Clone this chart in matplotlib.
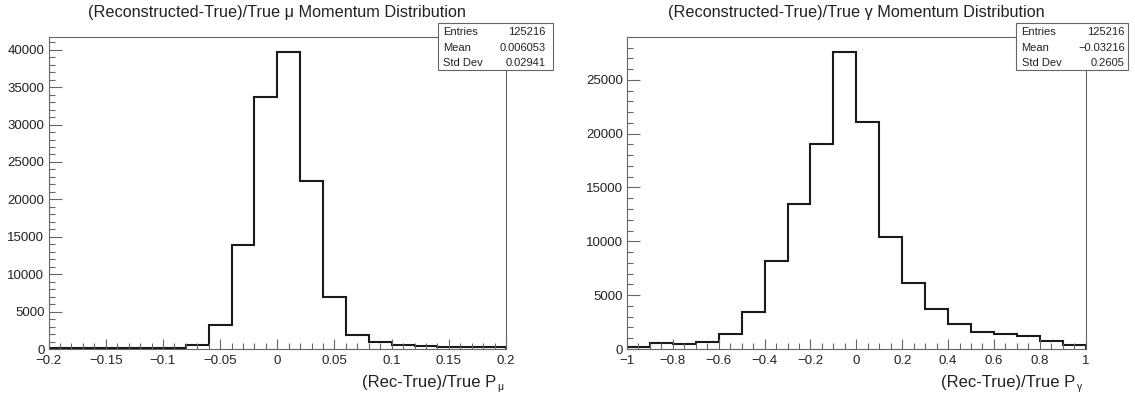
import numpy as np
import matplotlib
matplotlib.use('Agg')
import matplotlib.pyplot as plt
from matplotlib.patches import Rectangle
from matplotlib.ticker import MultipleLocator, FixedLocator, FuncFormatter

plt.rcParams['font.family'] = ['Liberation Sans', 'DejaVu Sans']

# muon momentum residual, 20 bins in [-0.2, 0.2]
mu_edges = np.linspace(-0.2, 0.2, 21)
mu_counts = [70, 80, 90, 110, 140, 190, 480, 3240, 13880, 33750,
             39680, 22470, 7000, 1885, 910, 550, 455, 320, 280, 240]
mu_xticks = [-0.2, -0.15, -0.1, -0.05, 0, 0.05, 0.1, 0.15, 0.2]
mu_stats = [('Entries', '125216'), ('Mean', '0.006053'), ('Std Dev', '0.02941')]

# photon momentum residual, 20 bins in [-1, 1]
gam_edges = np.linspace(-1, 1, 21)
gam_counts = [150, 535, 440, 660, 1435, 3390, 8160, 13500, 19045, 27570,
              21090, 10400, 6150, 3730, 2300, 1590, 1370, 1185, 720, 350]
gam_xticks = [-1, -0.8, -0.6, -0.4, -0.2, 0, 0.2, 0.4, 0.6, 0.8, 1]
gam_stats = [('Entries', '125216'), ('Mean', '\u22120.03216'), ('Std Dev', '0.2605')]

W, H = 1135, 393
fig = plt.figure(figsize=(W / 100, H / 100), dpi=100)


def fx(px):
    return px / W


def fy(py):
    return (H - py) / H


def fmt(v, pos):
    return ('%g' % v).replace('-', '\u2212')


panels = [
    dict(edges=mu_edges, counts=mu_counts, ticks=mu_xticks, minor=0.01,
         stats=mu_stats, box=(437.7, 23.3, 552.7, 70.3), val_pad=7,
         rect=(48.6, 37.3, 506.0, 349.0),
         title='(Reconstructed-True)/True \u03bc Momentum Distribution', sub='\u03bc'),
    dict(edges=gam_edges, counts=gam_counts, ticks=gam_xticks, minor=0.05,
         stats=gam_stats, box=(1016.0, 23.3, 1127.7, 70.3), val_pad=3,
         rect=(627.0, 37.3, 1085.7, 349.0),
         title='(Reconstructed-True)/True \u03b3 Momentum Distribution', sub='\u03b3'),
]

frame_col = '#666666'
for p in panels:
    x0, y0, x1, y1 = p['rect']
    ax = fig.add_axes([fx(x0), fy(y1), fx(x1 - x0), (y1 - y0) / H])
    ax.stairs(p['counts'], p['edges'], baseline=0, color='#1a1a1a', lw=1.5)
    ax.set_xlim(p['edges'][0], p['edges'][-1])
    ax.set_ylim(0, 1.05 * max(p['counts']))
    for s in ax.spines.values():
        s.set_color(frame_col)
        s.set_linewidth(0.8)
    ax.xaxis.set_major_locator(FixedLocator(p['ticks']))
    ax.xaxis.set_major_formatter(FuncFormatter(fmt))
    ax.xaxis.set_minor_locator(MultipleLocator(p['minor']))
    ax.yaxis.set_major_locator(MultipleLocator(5000))
    ax.yaxis.set_minor_locator(MultipleLocator(1000))
    ax.tick_params(which='both', direction='in', color=frame_col, width=0.8,
                   labelsize=9.5, labelcolor='#222222', top=False, right=False)
    ax.tick_params(axis='x', which='major', length=7, pad=4)
    ax.tick_params(axis='x', which='minor', length=4)
    ax.tick_params(axis='y', which='major', length=9, pad=3)
    ax.tick_params(axis='y', which='minor', length=4.5)

    # title centred over the frame
    fig.text(fx((x0 + x1) / 2), fy(17), p['title'], ha='center', va='baseline',
             fontsize=11.7, color='#222222')

    # axis label with a low subscript, ROOT style
    fig.text(fx(x1 - 10), fy(387), '(Rec-True)/True P', ha='right', va='baseline',
             fontsize=12, color='#222222')
    fig.text(fx(x1 - 8.5), fy(390.5), p['sub'], ha='left', va='baseline',
             fontsize=7.5, color='#222222')

    # stat box
    bx0, by0, bx1, by1 = p['box']
    fig.patches.append(Rectangle((fx(bx0), fy(by1)), fx(bx1 - bx0), (by1 - by0) / H,
                                 transform=fig.transFigure, facecolor='white',
                                 edgecolor=frame_col, lw=0.8, zorder=5))
    for i, (name, val) in enumerate(p['stats']):
        yy = fy(32.3 + 15.5 * i)
        fig.text(fx(bx0 + 5.5), yy, name, ha='left', va='center', fontsize=8,
                 color='#222222', zorder=6)
        fig.text(fx(bx1 - p['val_pad']), yy, val, ha='right', va='center', fontsize=8,
                 color='#222222', zorder=6)

fig.savefig('out.png', dpi=100)
